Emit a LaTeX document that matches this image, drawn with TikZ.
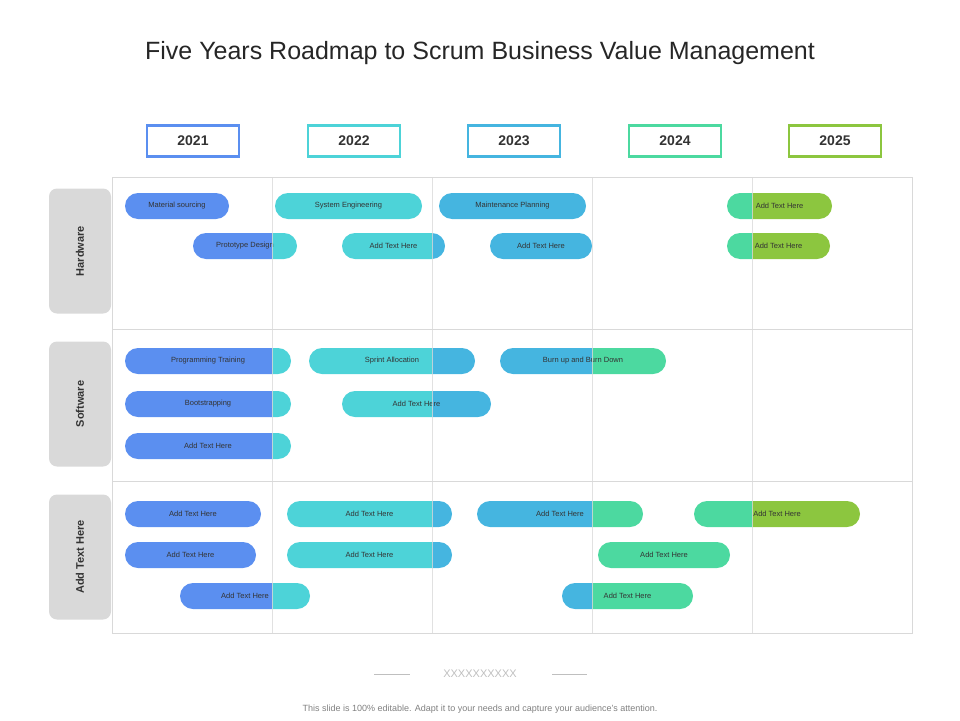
\documentclass[tikz,border=0pt]{standalone}
\usepackage{fontspec}
\setmainfont{Liberation Sans}
\definecolor{cblue}{HTML}{5B8FF0}
\definecolor{cteal}{HTML}{4DD3D8}
\definecolor{csky}{HTML}{45B5E0}
\definecolor{cmint}{HTML}{4CD9A0}
\definecolor{clime}{HTML}{8CC63F}
\tikzset{yearbox/.style={draw,line width=2.5pt,minimum width=92pt,minimum height=31pt,font=\fontsize{14}{14}\selectfont\bfseries,text=black!80},
  rowbox/.style={fill=black!15,rounded corners=8pt,minimum width=62pt,minimum height=125pt},
  barlabel/.style={font=\fontsize{7.5}{8}\selectfont,text=black!80}}
\newcommand\rbar[5]{%
  \begin{scope}
    \clip[rounded corners=13pt] (#1,#3-13) rectangle (#2,#3+13);
    \fill[cblue] (112,100) rectangle (272,650);
    \fill[cteal] (272,100) rectangle (432,650);
    \fill[csky] (432,100) rectangle (592,650);
    \fill[cmint] (592,100) rectangle (752,650);
    \fill[clime] (752,100) rectangle (912,650);
  \end{scope}
  \node[barlabel] (#5) at ({(#1+#2)/2},#3) {#4};}
\begin{document}
\begin{tikzpicture}[x=1pt,y=-1pt]
\useasboundingbox (0,0) rectangle (960,720);
\node[font=\fontsize{25}{25}\selectfont,text=black!85] (title) at (480,53) {Five Years Roadmap to Scrum Business Value Management};
% years
\node[yearbox,draw=cblue] (y1) at (193,141) {2021};
\node[yearbox,draw=cteal] (y2) at (354,141) {2022};
\node[yearbox,draw=csky] (y3) at (514,141) {2023};
\node[yearbox,draw=cmint] (y4) at (675,141) {2024};
\node[yearbox,draw=clime] (y5) at (835,141) {2025};
% rows
\node[rowbox] (r1) at (80,251) {};
\node[rotate=90,font=\fontsize{11}{11}\selectfont\bfseries,text=black!80] at (r1) {Hardware};
\node[rowbox] (r2) at (80,404) {};
\node[rotate=90,font=\fontsize{11}{11}\selectfont\bfseries,text=black!80] at (r2) {Software};
\node[rowbox] (r3) at (80,557) {};
\node[rotate=90,font=\fontsize{11}{11}\selectfont\bfseries,text=black!80] at (r3) {Add Text Here};
% bars
\rbar{125}{229}{206}{Material sourcing}{b1}
\rbar{275}{422}{206}{System Engineering}{b2}
\rbar{439}{586}{206}{Maintenance Planning}{b3}
\rbar{727}{832}{206}{Add Text Here}{b4}
\rbar{193}{297}{246}{Prototype Design}{b5}
\rbar{342}{445}{246}{Add Text Here}{b6}
\rbar{490}{592}{246}{Add Text Here}{b7}
\rbar{727}{830}{246}{Add Text Here}{b8}
\rbar{125}{291}{361}{Programming Training}{b9}
\rbar{309}{475}{361}{Sprint Allocation}{b10}
\rbar{500}{666}{361}{Burn up and Burn Down}{b11}
\rbar{125}{291}{404}{Bootstrapping}{b12}
\rbar{342}{491}{404}{Add Text Here}{b13}
\rbar{125}{291}{446}{Add Text Here}{b14}
\rbar{125}{261}{514}{Add Text Here}{b15}
\rbar{287}{452}{514}{Add Text Here}{b16}
\rbar{477}{643}{514}{Add Text Here}{b17}
\rbar{694}{860}{514}{Add Text Here}{b18}
\rbar{125}{256}{555}{Add Text Here}{b19}
\rbar{287}{452}{555}{Add Text Here}{b20}
\rbar{598}{730}{555}{Add Text Here}{b21}
\rbar{180}{310}{596}{Add Text Here}{b22}
\rbar{562}{693}{596}{Add Text Here}{b23}
% grid
\draw[black!15,line width=0.8pt] (112,177) rectangle (912,633);
\foreach \x in {272,432,592,752} \draw[black!15,line width=0.8pt,opacity=0.8] (\x,177) -- (\x,633);
\foreach \y in {329,481} \draw[black!15,line width=0.8pt] (112,\y) -- (912,\y);
% footer
\node[font=\fontsize{11}{11}\selectfont,text=black!25] (xx) at (480,674) {XXXXXXXXXX};
\draw[black!25] (374,674) -- (410,674) (552,674) -- (587,674);
\node[font=\fontsize{9}{9}\selectfont,text=black!50] (foot) at (480,709) {This slide is 100\% editable. Adapt it to your needs and capture your audience's attention.};
\end{tikzpicture}
\end{document}
